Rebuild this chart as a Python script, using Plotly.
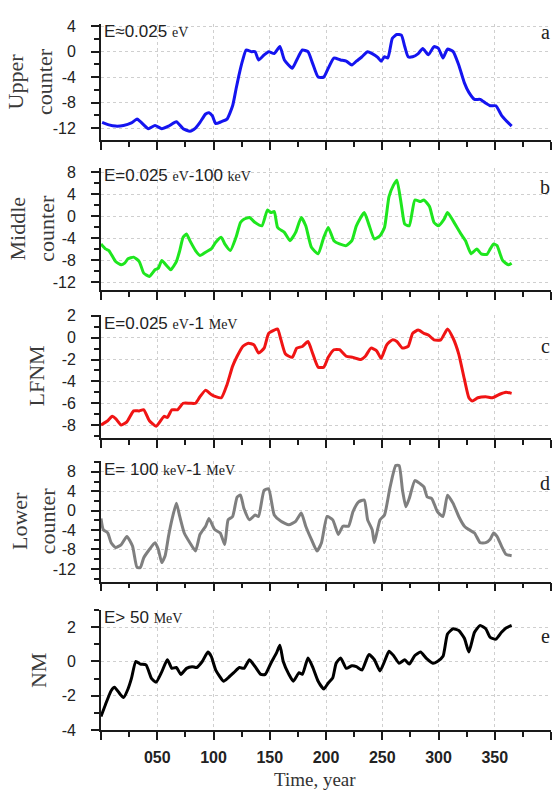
import plotly.graph_objects as go

# ---------------- data ----------------
upper_x = [1, 7, 13, 20, 27, 32, 35, 42, 48, 54, 60, 67, 73, 79, 84, 88, 93, 96, 99, 102, 107, 112, 117, 120, 123,
           126, 129, 134, 137, 140, 145, 149, 154, 159, 163, 170, 174, 179, 184, 188, 193, 198, 202, 207, 213,
           218, 223, 227, 232, 237, 241, 246, 249, 252, 255, 259, 263, 267, 270, 273, 277, 282, 286, 291, 296,
           300, 304, 308, 313, 318, 323, 327, 332, 337, 342, 346, 351, 356, 360, 365]
upper_y = [-11.1, -11.5, -11.7, -11.6, -11.2, -10.6, -11.0, -12.1, -11.6, -12.1, -11.7, -11.0, -12.1, -12.5, -12.0,
           -11.1, -9.8, -9.6, -10.1, -11.3, -11.0, -10.6, -8.5, -5.9, -3.4, -1.3, 0.26, 0.0, 0.0, -1.3, -0.5, 0.0,
           -0.3, 0.8, -1.3, -2.6, -1.3, 0.26, 0.0, -1.8, -4.0, -4.0, -2.6, -1.0, -1.3, -1.5, -2.1, -1.5, -0.8, 0.0,
           -0.3, -0.9, -1.5, -0.8, -1.0, 2.1, 2.7, 2.6, 0.8, -0.8, -0.8, -0.3, 0.5, -0.5, 0.8, 0.5, -1.0, 0.4, 0.0,
           -2.1, -4.9, -6.4, -7.5, -7.5, -8.1, -8.5, -8.5, -10.0, -10.8, -11.7]

middle_x = [0, 4, 7, 13, 18, 21, 24, 29, 34, 38, 43, 48, 51, 54, 59, 62, 67, 70, 73, 76, 79, 84, 88, 93, 98, 102,
            107, 110, 115, 120, 124, 127, 132, 137, 143, 148, 151, 154, 157, 163, 168, 173, 178, 182, 187, 193,
            198, 202, 207, 212, 218, 223, 227, 234, 238, 243, 248, 252, 256, 260, 263, 267, 270, 274, 279, 284,
            287, 292, 296, 300, 305, 308, 313, 320, 324, 329, 334, 338, 343, 346, 349, 352, 357, 362, 365]
middle_y = [-5.0, -5.9, -6.2, -8.2, -8.8, -8.5, -7.7, -7.4, -8.2, -10.3, -10.9, -9.7, -9.4, -8.0, -9.1, -9.7, -8.2,
            -6.2, -3.8, -3.2, -4.4, -6.2, -7.1, -6.5, -5.9, -4.7, -3.8, -5.0, -6.2, -3.8, -1.1, -0.5, -0.2, -1.1,
            -1.7, 1.2, 0.7, 0.9, -2.0, -2.9, -4.4, -2.9, -0.2, -1.7, -5.6, -6.8, -3.8, -2.0, -4.4, -5.0, -5.3,
            -4.4, -1.7, 0.7, -1.4, -4.1, -3.5, -2.0, 3.6, 5.7, 6.6, 2.1, -1.4, -1.7, 3.0, 2.7, 3.0, 1.8, -1.1,
            -1.7, -0.5, 0.7, -0.8, -3.2, -4.4, -6.8, -5.9, -6.8, -6.9, -5.9, -5.0, -5.3, -8.0, -8.8, -8.5]

lfnm_x = [0, 6, 10, 13, 18, 23, 29, 34, 38, 43, 49, 56, 59, 63, 68, 73, 79, 84, 88, 93, 98, 102, 107, 112, 117,
          121, 126, 131, 136, 140, 145, 149, 154, 157, 160, 164, 170, 174, 179, 184, 188, 193, 198, 202, 207,
          212, 218, 224, 231, 235, 240, 245, 249, 254, 259, 263, 268, 273, 277, 282, 287, 291, 296, 302, 308,
          313, 318, 323, 327, 330, 335, 342, 348, 354, 360, 365]
lfnm_y = [-8.0, -7.6, -7.2, -7.4, -8.0, -7.7, -6.7, -6.7, -6.6, -7.6, -8.1, -7.2, -7.3, -6.6, -6.6, -6.0, -6.0,
          -6.0, -5.4, -4.8, -5.2, -5.4, -5.5, -4.3, -2.6, -1.7, -0.8, -0.5, -0.65, -1.4, -0.95, 0.4, 0.7, 0.8,
          -0.2, -1.5, -1.8, -0.95, -0.8, -0.35, -1.4, -2.7, -2.7, -1.8, -1.1, -1.1, -1.7, -1.8, -2.0, -1.7,
          -0.95, -1.2, -1.9, -0.65, -0.2, -0.35, -0.95, -0.8, 0.4, 0.7, 0.4, 0.25, -0.2, -0.2, 0.8, -0.05,
          -1.5, -3.8, -5.5, -5.8, -5.5, -5.4, -5.5, -5.2, -5.0, -5.1]

lower_x = [0, 2, 6, 9, 13, 18, 23, 28, 32, 35, 38, 43, 48, 51, 54, 57, 60, 63, 67, 70, 74, 79, 84, 88, 93, 96,
           101, 106, 110, 113, 117, 121, 124, 127, 132, 137, 140, 145, 149, 154, 160, 167, 173, 178, 182, 187,
           192, 196, 201, 206, 211, 215, 220, 224, 229, 234, 237, 241, 243, 248, 252, 257, 262, 265, 268, 271,
           274, 279, 284, 287, 290, 294, 299, 304, 308, 313, 318, 323, 327, 332, 337, 342, 346, 349, 352, 356,
           360, 365]
lower_y = [-1.6, -3.9, -4.6, -6.6, -7.6, -7.0, -5.3, -7.3, -11.7, -11.7, -9.7, -8.0, -6.6, -8.0, -10.7, -9.3,
           -5.3, -1.9, 1.5, -1.2, -4.6, -6.6, -8.3, -4.9, -3.2, -1.6, -3.9, -4.6, -7.0, -1.9, -1.2, 2.8, 3.2,
           0.5, -1.9, -0.9, -1.2, 4.2, 4.5, -0.9, -2.2, -2.9, -2.2, -0.5, -3.2, -5.9, -8.3, -6.6, -1.2, -1.9,
           -4.9, -3.2, -3.2, -0.2, 1.8, 2.2, -1.9, -3.9, -6.6, -1.9, -0.9, 4.9, 9.3, 9.3, 4.2, 0.8, 2.5, 6.2,
           5.5, 4.9, 2.8, 2.5, -0.2, -1.2, 3.2, 1.5, -1.2, -3.2, -3.9, -4.6, -6.6, -6.6, -5.9, -4.6, -5.3,
           -7.3, -9.0, -9.3]

nm_x = [0, 4, 9, 12, 17, 20, 24, 27, 31, 35, 40, 45, 49, 54, 59, 63, 67, 71, 76, 81, 85, 90, 95, 98, 102, 109,
        113, 118, 123, 127, 132, 137, 142, 146, 151, 156, 159, 162, 167, 171, 176, 179, 184, 188, 193, 198, 202,
        206, 209, 213, 218, 223, 227, 232, 238, 243, 248, 252, 256, 260, 265, 270, 274, 279, 284, 289, 295,
        299, 304, 308, 313, 318, 323, 327, 332, 337, 342, 346, 351, 356, 360, 365]
nm_y = [-3.2, -2.5, -1.7, -1.5, -1.9, -2.1, -1.6, -1.0, 0.0, -0.15, -0.2, -1.0, -1.2, -0.6, 0.1, -0.4, -0.35,
        -0.75, -0.4, -0.3, -0.35, 0.0, 0.55, 0.3, -0.5, -1.15, -0.95, -0.65, -0.35, -0.4, 0.1, -0.3, -0.75,
        -0.75, -0.1, 0.5, 0.95, 0.0, -0.75, -1.15, -0.65, -0.75, 0.2, -0.3, -1.15, -1.6, -1.25, -0.95, -0.1,
        0.2, -0.4, -0.25, -0.3, -0.5, 0.4, 0.1, -0.55, 0.0, 0.6, 0.35, -0.1, 0.1, -0.15, 0.35, 0.55, 0.2,
        -0.1, 0.0, 0.3, 1.6, 1.9, 1.8, 1.35, 0.55, 1.7, 2.1, 1.9, 1.4, 1.3, 1.7, 1.95, 2.1]

x_tickvals = [0, 50, 100, 150, 200, 250, 300, 350, 400]
x_ticktext = ["", "050", "100", "150", "200", "250", "300", "350", ""]

yticks_a = [4, 0, -4, -8, -12]
yticks_b = [8, 4, 0, -4, -8, -12]
yticks_c = [2, 0, -2, -4, -6, -8]
yticks_d = [8, 4, 0, -4, -8, -12]
yticks_e = [2, 0, -2, -4]

# ---------------- layout helpers ----------------
W, H = 552, 798
SER = "font-family:Liberation Serif;font-size:14px"
panels = [
    dict(x=upper_x, y=upper_y, color="#1414f0", rng=[-13.9, 4.4], ticks=yticks_a, minor=2, px=(16, 135),
         title="Upper<br>counter", tx=30,
         label=f"E≈0.025 <span style='{SER}'>eV</span>", letter="a", ly=25),
    dict(x=middle_x, y=middle_y, color="#1ee61e", rng=[-13.35, 8.9], ticks=yticks_b, minor=2, px=(163, 288),
         title="Middle<br>counter", tx=32,
         label=f"E=0.025 <span style='{SER}'>eV</span>-100 <span style='{SER}'>keV</span>", letter="b", ly=183),
    dict(x=lfnm_x, y=lfnm_y, color="#f01414", rng=[-9.15, 2.05], ticks=yticks_c, minor=1, px=(314, 439),
         title="LFNM", tx=36,
         label=f"E=0.025 <span style='{SER}'>eV</span>-1 <span style='{SER}'>MeV</span>", letter="c", ly=345),
    dict(x=lower_x, y=lower_y, color="#7f7f7f", rng=[-14.6, 10.2], ticks=yticks_d, minor=2, px=(463, 586),
         title="Lower<br>counter", tx=34,
         label=f"E= 100 <span style='{SER}'>keV</span>-1 <span style='{SER}'>MeV</span>", letter="d", ly=485),
    dict(x=nm_x, y=nm_y, color="#000000", rng=[-4, 3], ticks=yticks_e, minor=1, px=(615, 738),
         title="NM", tx=38,
         label=f"E> 50 <span style='{SER}'>MeV</span>", letter="e", ly=642),
]

ML, MR = 101, 1
PW = W - ML - MR
fig = go.Figure()
annotations = []
axcol = "#1a1a1a"
for i, p in enumerate(panels):
    n = i + 1
    xa = "x" if n == 1 else f"x{n}"
    ya = "y" if n == 1 else f"y{n}"
    fig.add_trace(go.Scatter(x=p["x"], y=p["y"], mode="lines", xaxis=xa, yaxis=ya,
                             line=dict(color=p["color"], width=3, shape="spline", smoothing=0.5),
                             showlegend=False, hoverinfo="skip"))
    dom = [1 - p["px"][1] / H, 1 - p["px"][0] / H]
    last = (n == len(panels))
    fig.layout[f"xaxis{'' if n == 1 else n}"] = dict(
        domain=[0, 1], range=[0, 400], anchor=ya, tickvals=x_tickvals,
        ticktext=x_ticktext if last else [""] * len(x_tickvals),
        ticks="outside", ticklen=8, tickwidth=1.5, tickcolor=axcol,
        showline=True, linecolor=axcol, linewidth=1.8, zeroline=False,
        showgrid=True, gridcolor="#cfcfcf", gridwidth=1, griddash="3px,3px",
        minor=dict(tick0=0, dtick=25, ticks="outside", ticklen=5, tickwidth=1.5, tickcolor=axcol, showgrid=False),
        tickfont=dict(family="Liberation Sans", size=16, color="#222222", weight="bold"),
        ticklabelstandoff=4, fixedrange=True)
    fig.layout[f"yaxis{'' if n == 1 else n}"] = dict(
        domain=dom, range=p["rng"], anchor=xa, tickvals=p["ticks"], ticktext=[str(t) for t in p["ticks"]],
        ticks="outside", ticklen=8, tickwidth=1.5, tickcolor=axcol,
        showline=True, linecolor=axcol, linewidth=1.8, zeroline=False,
        showgrid=True, gridcolor="#cfcfcf", gridwidth=1, griddash="3px,3px",
        minor=dict(tick0=0, dtick=p["minor"], ticks="outside", ticklen=5, tickwidth=1.5, tickcolor=axcol,
                   showgrid=False),
        tickfont=dict(family="Liberation Sans", size=16, color="#222222"),
        ticklabelstandoff=12, fixedrange=True)
    annotations.append(dict(xref=f"{xa} domain", yref=f"{ya} domain", x=0.004, y=1.02,
                            xanchor="left", yanchor="top", showarrow=False, borderpad=0,
                            text=p["label"], font=dict(family="Liberation Sans", size=17, color="#222222")))
    cy = (p["px"][0] + p["px"][1]) / 2
    annotations.append(dict(xref="paper", yref="paper", x=(p["tx"] - ML) / PW, y=1 - cy / H,
                            xanchor="center", yanchor="middle", showarrow=False, textangle=-90,
                            text=p["title"], font=dict(family="Liberation Serif", size=22, color="#3a3a3a")))
    annotations.append(dict(xref="paper", yref="paper", x=(545 - ML) / PW, y=1 - p["ly"] / H,
                            xanchor="center", yanchor="middle", showarrow=False, text=p["letter"],
                            font=dict(family="Liberation Serif", size=20, color="#222222")))

annotations.append(dict(xref="paper", yref="paper", x=(315 - ML) / PW, y=1 - 788 / H,
                        xanchor="center", yanchor="middle", showarrow=False, text="Time, year",
                        font=dict(family="Liberation Serif", size=19, color="#333333")))

fig.update_layout(width=W, height=H, margin=dict(l=ML, r=MR, t=0, b=0, pad=0),
                  plot_bgcolor="white", paper_bgcolor="white", annotations=annotations)
fig.write_html("out.html", config={"displayModeBar": False},
               post_script="document.body.style.margin='0';document.body.style.overflow='hidden';")
